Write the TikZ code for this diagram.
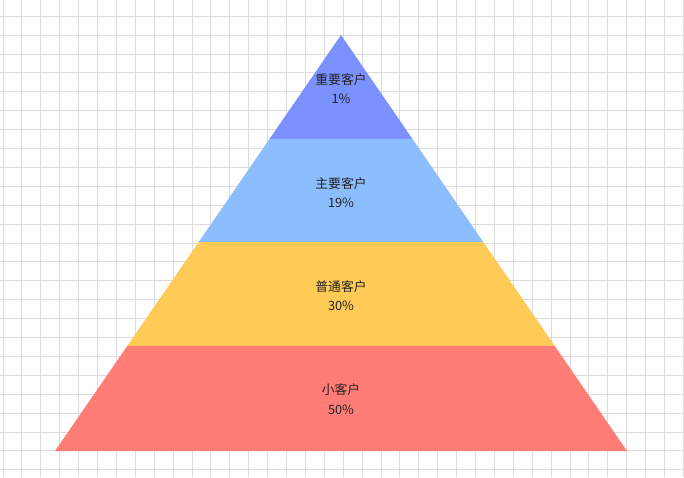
\documentclass[tikz,border=0pt]{standalone}
\usepackage{fontspec}
\newfontfamily\cjk{Noto Sans CJK SC}
\definecolor{gridc}{HTML}{DCDCDC}
\definecolor{bandA}{HTML}{7A91FF}
\definecolor{bandB}{HTML}{8CBEFF}
\definecolor{bandC}{HTML}{FFCA55}
\definecolor{bandD}{HTML}{FF7C77}
\definecolor{txt}{HTML}{222222}
\tikzset{
  lbl/.style={font=\cjk\fontsize{12.8}{19.5}\selectfont, text=txt, align=center, inner sep=0pt},
  gridline/.style={draw=gridc, line width=0.8pt}
}
\begin{document}
\begin{tikzpicture}[x=1pt,y=-1pt]
\useasboundingbox (0,0) rectangle (684,477);
\fill[white] (0,0) rectangle (684,477);
% grid
\foreach \i in {-2,...,34} {
  \draw[gridline] ({40.7+18.9*\i},0) -- ({40.7+18.9*\i},477);
}
\foreach \j in {-1,...,23} {
  \draw[gridline] (0,{35+18.9*\j}) -- (684,{35+18.9*\j});
}
% bands
\fill[bandA] (341,35) -- (412.5,139) -- (269.5,139) -- cycle;
\fill[bandB] (269.5,139) -- (412.5,139) -- (483.3,242) -- (198.7,242) -- cycle;
\fill[bandC] (198.7,242) -- (483.3,242) -- (554.8,346) -- (127.2,346) -- cycle;
\fill[bandD] (127.2,346) -- (554.8,346) -- (627,451) -- (55,451) -- cycle;
% labels
\node[lbl] (la) at (341,88.5) {重要客户\\1\%};
\node[lbl] (lb) at (341,192.5) {主要客户\\19\%};
\node[lbl] (lc) at (341,295.5) {普通客户\\30\%};
\node[lbl] (ld) at (341,399) {小客户\\50\%};
\end{tikzpicture}
\end{document}
